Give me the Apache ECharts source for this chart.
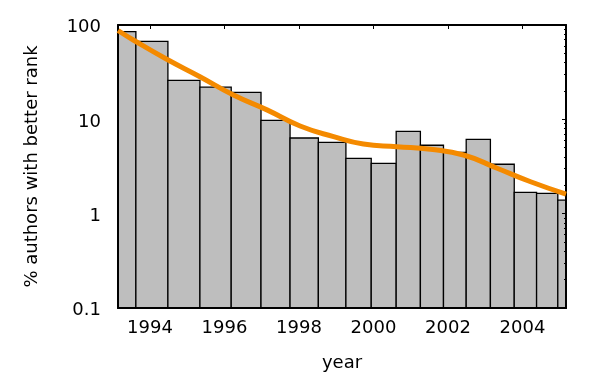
<!DOCTYPE html>
<html>
<head>
<meta charset="utf-8">
<script src="https://cdn.jsdelivr.net/npm/echarts@6/dist/echarts.min.js"></script>
<style>html,body{margin:0;padding:0;background:#fff;}#c{width:600px;height:380px;}</style>
</head>
<body>
<div id="c"></div>
<script>
// Bin edges (years) and bar heights (% authors with better rank)
var binEdges = [1993.14, 1993.62, 1994.48, 1995.34, 1996.18, 1996.98, 1997.76, 1998.52, 1999.26, 1999.94, 2000.61, 2001.26, 2001.88, 2002.49, 2003.14, 2003.78, 2004.38, 2004.95, 2005.17];
var barValues = [84.9, 67.2, 25.9, 21.9, 19.3, 9.76, 6.34, 5.71, 3.86, 3.42, 7.47, 5.31, 4.47, 6.14, 3.34, 1.68, 1.64, 1.39];
// Smooth trend line
var trendYears = [1993.14, 1993.55, 1994.45, 1995.34, 1996.24, 1997.14, 1998.03, 1998.93, 1999.73, 2000.63, 2001.53, 2002.42, 2003.32, 2004.22, 2005.17];
var trendValues = [87.4, 69.3, 43.3, 28.3, 18.1, 12.6, 8.5, 6.55, 5.47, 5.13, 4.81, 4.19, 3.03, 2.18, 1.61];
var xTickLabels = [1994, 1996, 1998, 2000, 2002, 2004];
var yMinorTicks = [0.2,0.3,0.4,0.5,0.6,0.7,0.8,0.9,2,3,4,5,6,7,8,9,20,30,40,50,60,70,80,90];

var xMin = binEdges[0], xMax = binEdges[binEdges.length - 1];
var barData = barValues.map(function (v, i) { return [binEdges[i], binEdges[i + 1], v]; });
var lineData = trendYears.map(function (y, i) { return [y, trendValues[i]]; });

var font = 'DejaVu Sans';
var fs = 18;
var chart = echarts.init(document.getElementById('c'), null, {renderer: 'canvas'});
chart.setOption({
  animation: false,
  backgroundColor: '#fff',
  textStyle: {fontFamily: font},
  grid: {left: 118, right: 34, top: 25, bottom: 72},
  xAxis: [{
    type: 'value', min: xMin, max: xMax, position: 'bottom', z: 3,
    name: 'year', nameLocation: 'middle', nameGap: 46,
    nameTextStyle: {fontFamily: font, fontSize: fs, color: '#000'},
    axisLine: {show: true, lineStyle: {color: '#000', width: 2}},
    axisTick: {show: false},
    axisLabel: {customValues: xTickLabels, fontFamily: font, fontSize: fs, color: '#000', margin: 11,
      formatter: function (v) { return String(Math.round(v)); }},
    splitLine: {show: false}
  }, {
    type: 'value', min: xMin, max: xMax, position: 'top', z: 3,
    axisLine: {show: true, lineStyle: {color: '#000', width: 2}},
    axisTick: {show: true, inside: true, length: 4, customValues: xTickLabels, lineStyle: {color: '#000', width: 1}},
    axisLabel: {show: false},
    splitLine: {show: false}
  }],
  yAxis: [{
    type: 'log', logBase: 10, min: 0.1, max: 100, position: 'left', z: 3,
    name: '% authors with better rank', nameLocation: 'middle', nameGap: 77, nameRotate: 90,
    nameTextStyle: {fontFamily: font, fontSize: fs, color: '#000'},
    axisLine: {show: true, lineStyle: {color: '#000', width: 2}},
    axisTick: {show: false},
    axisLabel: {fontFamily: font, fontSize: fs, color: '#000', margin: 17, verticalAlign: 'top', lineHeight: 5,
      formatter: function (v) { return String(v); }},
    splitLine: {show: false}
  }, {
    type: 'log', logBase: 10, min: 0.1, max: 100, position: 'right', z: 3,
    axisLine: {show: true, lineStyle: {color: '#000', width: 2}},
    axisTick: {show: true, inside: true, length: 4, lineStyle: {color: '#000', width: 1}},
    axisLabel: {show: false},
    splitLine: {show: false}
  }, {
    type: 'log', logBase: 10, min: 0.1, max: 100, position: 'right', z: 3,
    axisLine: {show: false},
    axisTick: {show: true, inside: true, length: 2, customValues: yMinorTicks, lineStyle: {color: '#000', width: 1}},
    axisLabel: {show: false},
    splitLine: {show: false}
  }],
  series: [{
    type: 'custom', xAxisIndex: 0, yAxisIndex: 0, z: 2,
    data: barData,
    encode: {x: [0, 1], y: 2},
    renderItem: function (params, api) {
      var p0 = api.coord([api.value(0), api.value(2)]);
      var p1 = api.coord([api.value(1), 0.1]);
      return {
        type: 'rect',
        shape: {x: p0[0], y: p0[1], width: p1[0] - p0[0], height: p1[1] - p0[1]},
        style: {fill: '#bebebe', stroke: '#000', lineWidth: 1.3}
      };
    }
  }, {
    type: 'line', xAxisIndex: 0, yAxisIndex: 0, z: 4,
    data: lineData, smooth: true, showSymbol: false,
    lineStyle: {color: '#f48a00', width: 5},
    itemStyle: {color: '#f48a00'}
  }]
});
</script>
</body>
</html>
